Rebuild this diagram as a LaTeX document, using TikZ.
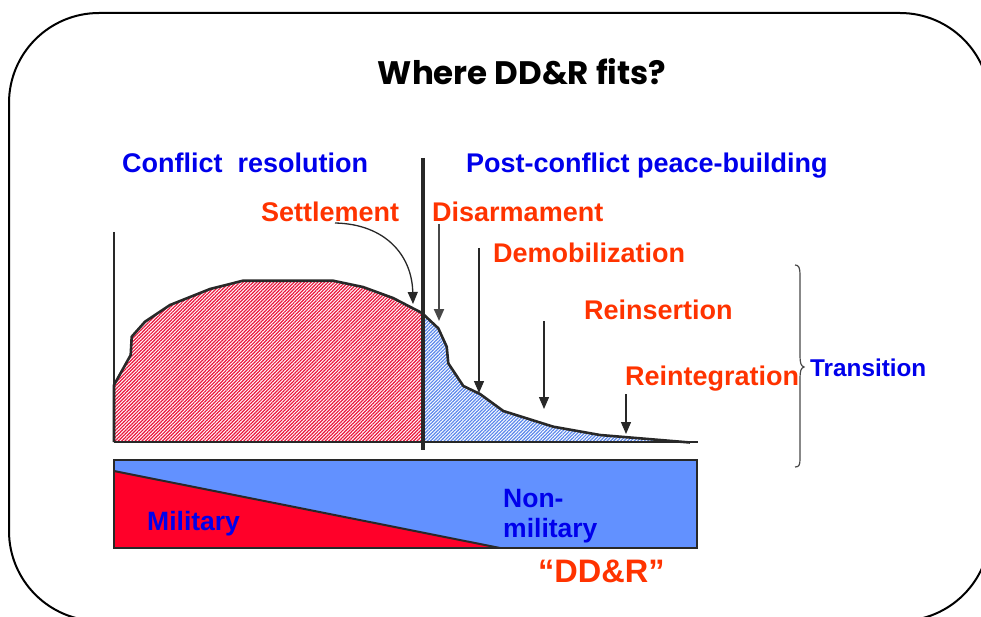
\documentclass[tikz,border=0pt]{standalone}
\usepackage{fontspec}
\setmainfont{Liberation Sans}
\newfontfamily\titlefont{Poppins}
\usetikzlibrary{arrows.meta,patterns.meta}
\definecolor{txtblue}{RGB}{0,0,235}
\definecolor{txtorange}{RGB}{255,51,0}
\definecolor{barblue}{RGB}{98,145,255}
\definecolor{barred}{RGB}{255,0,41}
\definecolor{edge}{RGB}{40,40,40}
\definecolor{hatchred}{RGB}{235,20,60}
\definecolor{hatchblue}{RGB}{90,135,235}
\tikzset{
  lbl/.style={inner sep=0pt, anchor=base west, font=\bfseries\fontsize{27}{29}\selectfont},
  bluelbl/.style={lbl, text=txtblue},
  orangelbl/.style={lbl, text=txtorange},
  barlbl/.style={inner sep=0pt, anchor=base west, text=txtblue, font=\bfseries\fontsize{26.5}{28}\selectfont},
  downarrow/.style={draw=edge!85!white, line width=2pt, -{Triangle[length=12pt,width=10pt]}},
  thinarrow/.style={draw=edge, line width=1.3pt, -{Triangle[length=12pt,width=10pt]}},
}
\begin{document}
\begin{tikzpicture}[x=1pt,y=-1pt]
\useasboundingbox (0,0) rectangle (981,617);
\clip (0,0) rectangle (981,617);
% frame
\draw[line width=2pt, rounded corners=90pt] (9,13) rectangle (990,621);

% title
\node[inner sep=0pt, anchor=base, font=\titlefont\bfseries\fontsize{32.5}{35}\selectfont] (title) at (522,85) {Where DD\&R fits?};

% headers
\node[bluelbl] (conf) at (122,173) {Conflict\ \ resolution};
\node[bluelbl] (post) at (466,173) {Post-conflict peace-building};

% orange labels
\node[orangelbl] (settle) at (261,222) {Settlement};
\node[orangelbl] (disarm) at (432,222) {Disarmament};
\node[orangelbl] (demob) at (493,263) {Demobilization};
\node[orangelbl] (reins) at (584,319) {Reinsertion};
\node[orangelbl] (reint) at (625,385) {Reintegration};
\node[inner sep=0pt, anchor=base west, text=txtblue, font=\bfseries\fontsize{24.3}{26}\selectfont] (trans) at (810,376) {Transition};

% hatched areas
\fill[fill=hatchred!55!white, pattern={Lines[angle=45,distance=2.4pt,line width=1.2pt]}, pattern color=hatchred]
  (114,442) -- (114,385) -- (130.7,355) -- (131.7,336.7) -- (145,321.7) -- (170,305) -- (210,289)
  -- (243,280.7) -- (333,280.7) -- (363,287) -- (393,298) -- (422,313) -- (422,442) -- cycle;
\fill[fill=hatchblue!45!white, pattern={Lines[angle=45,distance=2.4pt,line width=1.2pt]}, pattern color=hatchblue]
  (422,442) -- (422,313) -- (438.3,328.3) -- (446.7,346.7) -- (448.3,363.3) -- (463.3,386) -- (480,394)
  -- (503.3,411) -- (553.3,426.7) -- (600,435) -- (690,442.5) -- cycle;
% outline of curve
\draw[edge, line width=2.6pt, line join=round]
  (114,442) -- (114,385) -- (130.7,355) -- (131.7,336.7) -- (145,321.7) -- (170,305) -- (210,289)
  -- (243,280.7) -- (333,280.7) -- (363,287) -- (393,298) -- (422,313)
  -- (438.3,328.3) -- (446.7,346.7) -- (448.3,363.3) -- (463.3,386) -- (480,394)
  -- (503.3,411) -- (553.3,426.7) -- (600,435) -- (690,442.5);
% axes
\draw[edge, line width=1.2pt] (114,232) -- (114,442);
\draw[edge, line width=2.8pt] (114,442) -- (698,442);
\draw[edge, line width=3.5pt] (423,158) -- (423,450);

% arrows
\coordinate (settleS) at (335,223);
\coordinate (settleT) at (413,304);
\draw[thinarrow] (settleS) .. controls (385,224) and (412,255) .. (settleT);
\coordinate (disA) at (439,224);
\coordinate (disB) at (439,321);
\draw[downarrow] (disA) -- (disB);
\coordinate (demA) at (479,248);
\coordinate (demB) at (479,393);
\draw[thinarrow] (demA) -- (demB);
\coordinate (reinsA) at (544,321);
\coordinate (reinsB) at (544,409);
\draw[thinarrow] (reinsA) -- (reinsB);
\coordinate (reintA) at (626,394);
\coordinate (reintB) at (626,434);
\draw[thinarrow] (reintA) -- (reintB);

% brace
\draw[edge!85!white, line width=1.2pt]
  (795,265) .. controls (799,265) and (800,268) .. (800,275) -- (800,356)
  .. controls (800,363) and (801,366) .. (804,367)
  .. controls (801,368) and (800,371) .. (800,378) -- (800,459)
  .. controls (800,465) and (799,467) .. (795,467);

% bar
\fill[barblue] (114,460) rectangle (697,548);
\fill[barred] (114,471) -- (500,548) -- (114,548) -- cycle;
\draw[edge, line width=2pt] (114,471) -- (500,548);
\draw[edge, line width=2.6pt] (114,460) rectangle (697,548);

\node[barlbl] (mil) at (147,530) {Military};
\node[barlbl] (non) at (503,507) {Non-};
\node[barlbl] (nonmil) at (503,537) {military};
\node[inner sep=0pt, anchor=base west, text=txtorange, font=\bfseries\fontsize{32.5}{34}\selectfont] (ddr) at (538,582) {“DD\&R”};
\end{tikzpicture}
\end{document}
